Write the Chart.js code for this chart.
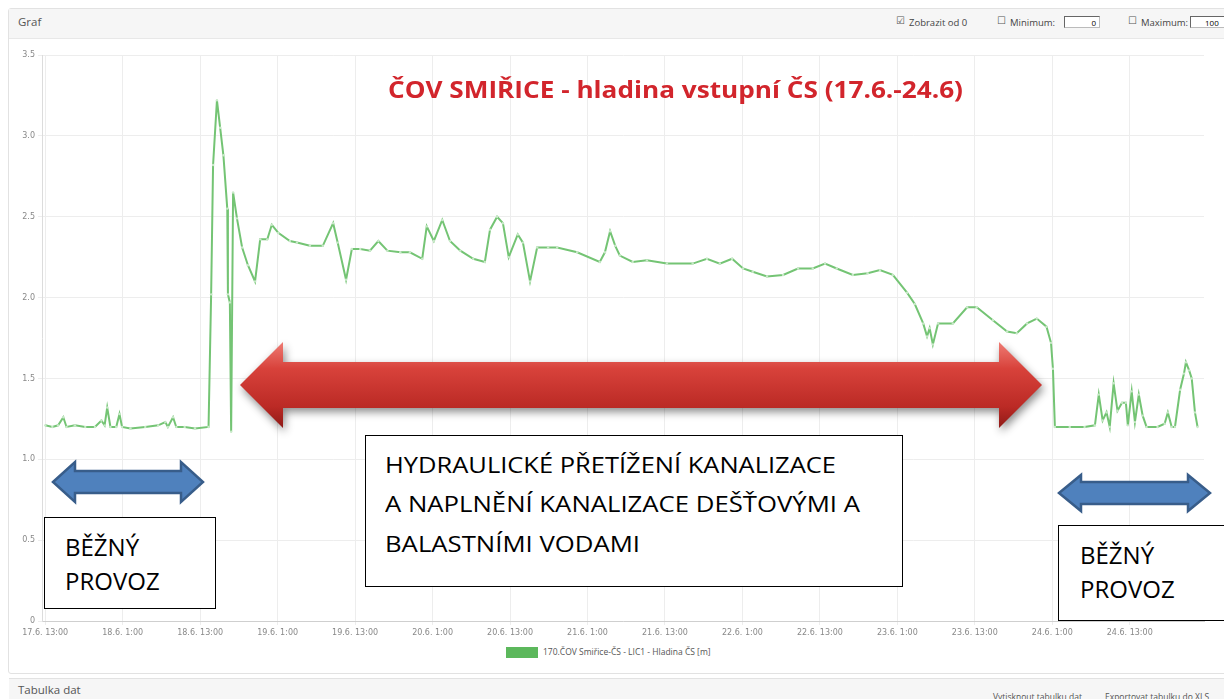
<!DOCTYPE html>
<html>
<head>
<meta charset="utf-8">
<script src="https://cdn.jsdelivr.net/npm/chart.js@4.4.0/dist/chart.umd.min.js"></script>
<style>
  body { margin: 0; width: 1224px; height: 699px; overflow: hidden; background: #fff; position: relative; font-family: "Open Sans", sans-serif; }
  .abs { position: absolute; white-space: nowrap; }
  .panel { left: 8px; top: 8px; width: 1230px; height: 664px; border: 1px solid #e2e2e2; border-radius: 3px; }
  .hdr { left: 9px; top: 9px; width: 1230px; height: 29px; background: #f6f6f6; border-bottom: 1px solid #e8e8e8; }
  .small { font-size: 9.5px; color: #444; }
  .chk { font-family: "DejaVu Sans", sans-serif; font-size: 10px; color: #555; }
  .inp { border: 1px solid #bbb; border-top-color: #666; border-left-color: #666; height: 12px; background: #fff; font-size: 8px; text-align: right; padding-right: 3px; box-sizing: border-box; line-height: 11px; }
  .box { border: 1px solid #000; background: #fff; box-sizing: border-box; }
  .btxt { font-size: 24px; color: #000; line-height: 1; }
  .mtxt { font-size: 21px; color: #000; line-height: 1; }
  #wrap { position: absolute; left: 0; top: 40px; width: 1224px; height: 601px; }
</style>
</head>
<body>
<div class="abs panel"></div>
<div class="abs hdr"></div>
<div class="abs" style="left:18px;top:14px;font-size:11.5px;color:#555;">Graf</div>

<div class="abs chk" style="left:896px;top:15px;">☑</div>
<div class="abs small" style="left:909px;top:16px;">Zobrazit od 0</div>
<div class="abs chk" style="left:997px;top:15px;">☐</div>
<div class="abs small" style="left:1010px;top:16px;">Minimum:</div>
<div class="abs inp" style="left:1064px;top:16px;width:36px;">0</div>
<div class="abs chk" style="left:1128px;top:15px;">☐</div>
<div class="abs small" style="left:1141px;top:16px;">Maximum:</div>
<div class="abs inp" style="left:1190px;top:16px;width:40px;text-align:left;padding-left:14px;">100</div>

<div id="wrap"><canvas id="chart"></canvas></div>

<div class="abs" id="title" style="left:388px;top:73px;font-size:23px;font-weight:bold;color:#d2252c;transform-origin:0 0;">ČOV SMIŘICE - hladina vstupní ČS (17.6.-24.6)</div>

<div class="abs box" style="left:44px;top:517px;width:172px;height:92px;"></div>
<div class="abs btxt" style="left:65px;top:535px;">BĚŽNÝ</div>
<div class="abs btxt" style="left:65px;top:569px;">PROVOZ</div>

<div class="abs box" style="left:365px;top:435px;width:538px;height:152px;"></div>
<div class="abs mtxt fit" data-w="451" style="left:385px;top:455px;transform-origin:0 0;">HYDRAULICKÉ PŘETÍŽENÍ KANALIZACE</div>
<div class="abs mtxt fit" data-w="475" style="left:385px;top:494px;transform-origin:0 0;">A NAPLNĚNÍ KANALIZACE DEŠŤOVÝMI A</div>
<div class="abs mtxt fit" data-w="255" style="left:385px;top:534px;transform-origin:0 0;">BALASTNÍMI VODAMI</div>

<div class="abs box" style="left:1058px;top:525px;width:170px;height:96px;"></div>
<div class="abs btxt" style="left:1080px;top:543px;">BĚŽNÝ</div>
<div class="abs btxt" style="left:1080px;top:577px;">PROVOZ</div>

<div class="abs" style="left:506px;top:647px;width:32px;height:11px;background:#5cb85c;"></div>
<div class="abs" style="left:543px;top:646px;font-size:8.5px;color:#555;">170.ČOV Smiřice-ČS - LIC1 - Hladina ČS [m]</div>

<div class="abs hdr" style="top:678px;height:30px;border-top:1px solid #e2e2e2;"></div>
<div class="abs" style="left:18px;top:682px;font-size:11.5px;color:#555;">Tabulka dat</div>
<div class="abs" style="left:993px;top:691px;font-size:8.5px;color:#555;">Vytisknout tabulku dat</div>
<div class="abs" style="left:1105px;top:691px;font-size:8.5px;color:#555;">Exportovat tabulku do XLS</div>

<script>
// hours since 17.6. 0:00
const times = [
  13.0, 14.1, 15.0, 15.8, 16.3, 17.6, 19.2, 20.7, 21.7, 22.2,
  22.6, 23.1, 24.0, 24.5, 24.9, 26.2, 28.5, 30.5, 31.6, 32.0,
  32.8, 33.3, 34.6, 36.2, 38.3, 38.7, 39.0, 39.6, 40.1, 40.6,
  41.2, 41.3, 41.6, 41.8, 42.1, 42.7, 43.5, 44.4, 45.5, 46.3,
  47.4, 48.1, 49.1, 50.9, 52.0, 54.0, 56.0, 57.6, 58.3, 59.6,
  60.5, 61.8, 63.3, 64.6, 66.0, 68.0, 69.5, 71.4, 72.1, 73.2,
  74.5, 75.7, 77.3, 79.3, 81.1, 81.9, 83.0, 83.9, 84.8, 86.2,
  87.0, 88.1, 89.2, 90.9, 92.3, 95.4, 98.9, 99.7, 100.5, 101.3,
  102.0, 104.0, 106.2, 109.3, 113.3, 115.5, 117.5, 119.4, 121.1, 122.6,
  124.8, 127.3, 129.6, 131.9, 133.8, 135.6, 138.1, 140.4, 142.3, 144.3,
  146.5, 147.7, 149.0, 149.6, 150.0, 150.5, 151.3, 153.6, 155.8, 157.3,
  159.8, 162.0, 163.5, 165.1, 166.6, 168.1, 168.8, 169.1, 169.4, 171.7,
  174.0, 175.6, 176.2, 176.8, 177.4, 177.9, 178.5, 179.1, 179.8, 180.4,
  180.7, 181.3, 181.8, 182.4, 183.0, 183.6, 185.3, 186.4, 186.9, 187.5,
  188.0, 188.8, 189.4, 189.7, 190.2, 190.6, 191.1, 191.5
];
// hladina [m]
const levels = [
  1.21, 1.20, 1.21, 1.26, 1.20, 1.21, 1.20, 1.20, 1.24, 1.21,
  1.32, 1.20, 1.20, 1.28, 1.20, 1.19, 1.20, 1.21, 1.23, 1.20,
  1.26, 1.20, 1.20, 1.19, 1.20, 2.02, 2.82, 3.22, 3.05, 2.88,
  2.55, 2.02, 1.97, 1.17, 2.65, 2.49, 2.31, 2.20, 2.10, 2.36,
  2.36, 2.45, 2.40, 2.35, 2.34, 2.32, 2.32, 2.46, 2.34, 2.11,
  2.30, 2.30, 2.29, 2.35, 2.29, 2.28, 2.28, 2.24, 2.44, 2.35,
  2.48, 2.35, 2.29, 2.24, 2.22, 2.42, 2.50, 2.46, 2.25, 2.39,
  2.34, 2.10, 2.31, 2.31, 2.31, 2.28, 2.22, 2.28, 2.41, 2.32,
  2.26, 2.22, 2.23, 2.21, 2.21, 2.24, 2.21, 2.24, 2.18, 2.16,
  2.13, 2.14, 2.18, 2.18, 2.21, 2.18, 2.14, 2.15, 2.17, 2.14,
  2.03, 1.96, 1.84, 1.76, 1.81, 1.71, 1.84, 1.84, 1.94, 1.94,
  1.86, 1.79, 1.78, 1.84, 1.87, 1.82, 1.72, 1.56, 1.20, 1.20,
  1.20, 1.21, 1.40, 1.24, 1.29, 1.20, 1.47, 1.30, 1.35, 1.35,
  1.21, 1.42, 1.23, 1.40, 1.27, 1.20, 1.20, 1.22, 1.29, 1.20,
  1.20, 1.43, 1.53, 1.60, 1.55, 1.50, 1.29, 1.20
];
const tickHours = [13, 25, 37, 49, 61, 73, 85, 97, 109, 121, 133, 145, 157, 169, 181];
const tickLabels = [
  '17.6. 13:00', '18.6. 1:00', '18.6. 13:00', '19.6. 1:00', '19.6. 13:00',
  '20.6. 1:00', '20.6. 13:00', '21.6. 1:00', '21.6. 13:00', '22.6. 1:00',
  '22.6. 13:00', '23.6. 1:00', '23.6. 13:00', '24.6. 1:00', '24.6. 13:00'
];

// arrows drawn over the plot (page coordinates, canvas sits 40px lower)
function arrowPath(ctx, x1, x2, cy, shaftH, headH, headL) {
  const s = shaftH / 2, h = headH / 2;
  ctx.beginPath();
  ctx.moveTo(x1, cy);
  ctx.lineTo(x1 + headL, cy - h);
  ctx.lineTo(x1 + headL, cy - s);
  ctx.lineTo(x2 - headL, cy - s);
  ctx.lineTo(x2 - headL, cy - h);
  ctx.lineTo(x2, cy);
  ctx.lineTo(x2 - headL, cy + h);
  ctx.lineTo(x2 - headL, cy + s);
  ctx.lineTo(x1 + headL, cy + s);
  ctx.lineTo(x1 + headL, cy + h);
  ctx.closePath();
}

const arrowsPlugin = {
  id: 'arrows',
  afterDraw(chart) {
    const ctx = chart.ctx;
    ctx.save();
    ctx.translate(0, -40);
    // red arrow
    const g = ctx.createLinearGradient(0, 343, 0, 428);
    g.addColorStop(0, '#ee7a72');
    g.addColorStop(0.3, '#d8423b');
    g.addColorStop(0.75, '#bb2a25');
    g.addColorStop(1, '#8f1a17');
    ctx.save();
    ctx.shadowColor = 'rgba(0,0,0,0.45)';
    ctx.shadowBlur = 8;
    ctx.shadowOffsetX = 2;
    ctx.shadowOffsetY = 4;
    arrowPath(ctx, 240, 1042, 385, 46, 86, 43);
    ctx.fillStyle = g;
    ctx.fill();
    ctx.restore();
    // blue arrows
    ctx.fillStyle = '#4f81bd';
    ctx.strokeStyle = '#385d8a';
    ctx.lineWidth = 2.5;
    arrowPath(ctx, 53, 203, 482, 22, 40, 22);
    ctx.fill(); ctx.stroke();
    arrowPath(ctx, 1059, 1210, 493, 22, 36, 22);
    ctx.fill(); ctx.stroke();
    ctx.restore();
  }
};

new Chart(document.getElementById('chart'), {
  type: 'line',
  data: {
    datasets: [{
      label: '170.ČOV Smiřice-ČS - LIC1 - Hladina ČS [m]',
      data: times.map((t, i) => ({ x: t, y: levels[i] })),
      borderColor: '#74c474',
      borderWidth: 2,
      pointRadius: 1.2,
      pointBackgroundColor: '#c9e9c9',
      pointBorderWidth: 0,
      tension: 0
    }]
  },
  options: {
    responsive: true,
    maintainAspectRatio: false,
    animation: false,
    layout: { padding: { top: 15, right: 20, left: 0, bottom: 0 } },
    plugins: { legend: { display: false }, tooltip: { enabled: false } },
    scales: {
      x: {
        type: 'linear',
        min: 12.5,
        max: 192.5,
        afterBuildTicks: s => { s.ticks = tickHours.map(v => ({ value: v })); },
        afterFit: s => { s.height = 20; },
        ticks: {
          autoSkip: false,
          maxRotation: 0,
          padding: 3,
          color: '#888',
          font: { family: 'DejaVu Sans', size: 8 },
          callback: v => tickLabels[tickHours.indexOf(v)]
        },
        grid: { color: '#ededed', tickLength: 4 },
        border: { color: '#cfcfcf' }
      },
      y: {
        min: 0,
        max: 3.5,
        afterFit: s => { s.width = 42; },
        ticks: {
          stepSize: 0.5,
          padding: 3,
          color: '#888',
          font: { family: 'DejaVu Sans', size: 8 },
          callback: v => v === 0 ? '0' : v.toFixed(1)
        },
        grid: { color: '#ededed', tickLength: 4 },
        border: { color: '#dcdcdc' }
      }
    }
  },
  plugins: [arrowsPlugin]
});

// stretch annotation texts to the widths in the picture
const titleEl = document.getElementById('title');
titleEl.style.transform = 'scaleX(' + (575 / titleEl.getBoundingClientRect().width) + ')';
document.querySelectorAll('.fit').forEach(el => {
  el.style.transform = 'scaleX(' + (Number(el.dataset.w) / el.getBoundingClientRect().width) + ')';
});
</script>
</body>
</html>
